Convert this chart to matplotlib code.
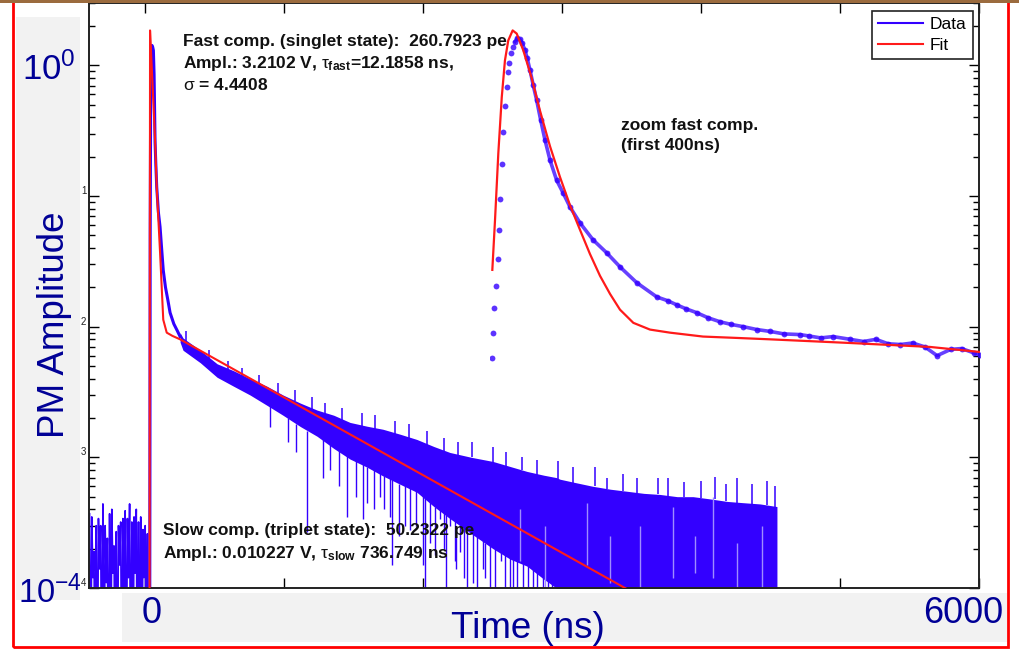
import matplotlib
matplotlib.use('Agg')
import matplotlib.pyplot as plt
from matplotlib.patches import Rectangle
from matplotlib.lines import Line2D
from matplotlib.ticker import LogLocator, NullFormatter, NullLocator, MultipleLocator

plt.rcParams.update({
    'font.family': 'Liberation Sans',
    'mathtext.fontset': 'custom',
    'mathtext.rm': 'Liberation Sans',
    'mathtext.it': 'Liberation Sans',
    'mathtext.bf': 'Liberation Sans:bold',
})

W, H = 1019, 649
BLUE = '#3300ff'
RED = '#ff1a1a'
NAVY = '#000096'

# ── data ────────────────────────────────────────────────────────────────────
# pre-trigger baseline noise, ns / V
pre_t = [-396, -388, -380, -372, -364, -356, -348, -340, -332, -324, -316, -308,
         -300, -292, -284, -276, -268, -260, -252, -244, -236, -228, -220, -212,
         -204, -196, -188, -180, -172, -164, -156, -148, -140, -132, -124, -116,
         -108, -100, -92, -84, -76, -68, -60, -52, -44, -36, -28, -20, -12, -4,
         4, 12, 20, 28]
pre_amp = [3.7e-4, 1e-5, 3.5e-4, 1.2e-4, 1.9e-4, 1e-5, 3.0e-4, 1e-5, 3.4e-4, 1.4e-4,
           3.0e-4, 1e-5, 4.4e-4, 1e-5, 3.0e-4, 1.1e-4, 2.4e-4, 1e-5, 3.7e-4, 1e-5,
           4.0e-4, 1.3e-4, 2.1e-4, 1e-5, 2.7e-4, 1e-5, 3.0e-4, 1.5e-4, 3.2e-4, 1e-5,
           3.4e-4, 1e-5, 3.9e-4, 1e-5, 3.4e-4, 1.2e-4, 4.4e-4, 1e-5, 3.2e-4, 1e-5,
           3.5e-4, 1.3e-4, 4.0e-4, 1e-5, 3.2e-4, 1e-5, 3.5e-4, 1e-5, 2.8e-4, 1.2e-4,
           3.0e-4, 1e-5, 2.6e-4, 1e-5]

# prompt peak of the data
peak_t = [36, 40, 44, 48, 53, 58, 63, 68, 75, 81, 87, 99, 111, 122, 134, 150,
          167, 183, 210, 235, 255]
peak_amp = [1e-5, 0.05, 0.9, 1.35, 1.42, 1.38, 1.30, 0.85, 0.26, 0.17, 0.117,
            0.075, 0.058, 0.040, 0.027, 0.020, 0.016, 0.0128, 0.0105, 0.0093, 0.0084]

# slow tail: band of the noisy trace
env_t = [255, 276, 400, 521, 640, 758, 880, 995, 1120, 1240, 1360, 1477, 1600,
         1714, 1840, 1958, 2080, 2195, 2350, 2505, 2630, 2750, 2870, 2960, 2987,
         3100, 3224, 3350, 3469, 3590, 3706, 3830, 3944, 4070, 4188, 4300, 4425, 4547]
env_hi = [0.0090, 0.0082, 0.0066, 0.0052, 0.0046, 0.0040, 0.0035, 0.0030, 0.0026,
          0.0023, 0.0021, 0.00185, 0.00173, 0.00164, 0.0015, 0.00137, 0.00121,
          0.00109, 0.0010, 0.00093, 0.00085, 0.00078, 0.00073, 0.0007, 0.00068,
          0.00064, 0.0006, 0.00057, 0.00055, 0.00053, 0.00052, 0.0005, 0.0005,
          0.00048, 0.00046, 0.00045, 0.00044, 0.00042]
env_lo = [0.0076, 0.0066, 0.0053, 0.0041, 0.0035, 0.0030, 0.0025, 0.0021, 0.00172,
          0.00145, 0.00117, 0.00097, 0.00084, 0.00072, 0.00062, 0.00054, 0.00042,
          0.00034, 0.00026, 0.0002, 0.000166, 0.000147, 0.000117, 0.0001,
          1e-5, 1e-5, 1e-5, 1e-5, 1e-5, 1e-5, 1e-5, 1e-5, 1e-5, 1e-5, 1e-5, 1e-5,
          1e-5, 1e-5]

# downward noise spikes
down_t = [905, 1030, 1090, 1168, 1280, 1330, 1400, 1455, 1520, 1570, 1600, 1650,
          1690, 1720, 1764, 1778, 1830, 1870, 1910, 1950, 2000, 2015, 2050, 2090,
          2124, 2150, 2170, 2196, 2230, 2240, 2268, 2300, 2320, 2361, 2390, 2433,
          2450, 2480, 2520, 2560, 2590, 2627, 2650, 2680, 2721, 2760, 2793, 2820,
          2865, 2900, 2930, 2965]
down_top = [0.0025, 0.0020, 0.0018, 0.0016, 0.0014, 0.0013, 0.0012, 0.0011, 0.0010,
            0.0009, 0.00085, 0.0009, 0.0008, 0.00072, 0.0008, 0.0008, 0.00063,
            0.0007, 0.0007, 0.00055, 0.0006, 0.0006, 0.0005, 0.00042, 0.0005,
            0.0005, 0.00036, 0.0004, 0.0004, 0.0003, 0.0004, 0.0003, 0.00027,
            0.0003, 0.00025, 0.0003, 0.00022, 0.00025, 0.0002, 0.0002, 0.00018,
            0.0002, 0.00017, 0.0002, 0.0002, 0.00015, 0.00016, 0.00014, 0.00016,
            0.00012, 0.00013, 0.00013]
down_bot = [0.0017, 0.0013, 0.0011, 2.7e-4, 0.0007, 0.0008, 0.0006, 3.5e-4, 0.0005,
            3.4e-4, 4.5e-4, 0.0004, 0.0005, 4.0e-4, 3.5e-4, 1.5e-4, 2.5e-4, 0.0003,
            2.8e-4, 3.0e-4, 1.5e-4, 1e-5, 2.2e-4, 1.8e-4, 3.4e-4, 2e-4, 1e-5,
            3.0e-4, 1.6e-4, 1.4e-4, 1.9e-4, 1.2e-4, 1e-5, 1.1e-4, 1e-5, 1.4e-4,
            1.2e-4, 1e-5, 1e-5, 1.6e-4, 1e-5, 1e-5, 1e-5, 1e-5, 1e-5, 1e-5, 1e-5,
            1e-5, 1e-5, 1e-5, 1e-5, 1e-5]

# upward noise spikes
tip_t = [300, 460, 600, 700, 820, 960, 1080, 1200, 1300, 1420, 1560, 1660, 1800,
         1900, 2030, 2150, 2250, 2355, 2505, 2600, 2714, 2820, 2973, 3080, 3239,
         3325, 3440, 3540, 3692, 3764, 3880, 4000, 4102, 4180, 4260, 4370, 4476, 4530]
tip_top = [0.0093, 0.0066, 0.0055, 0.0048, 0.0043, 0.0037, 0.0033, 0.0029, 0.0026,
           0.0024, 0.0022, 0.0021, 0.0019, 0.0018, 0.0016, 0.0014, 0.0013, 0.0013,
           0.0012, 0.0011, 0.0010, 0.00095, 0.00093, 0.00085, 0.00084, 0.00069,
           0.00075, 0.0007, 0.00069, 0.00069, 0.00065, 0.00066, 0.00071, 0.00063,
           0.0007, 0.00062, 0.00066, 0.0006]
tip_base = [0.0075, 0.0055, 0.0046, 0.0042, 0.0037, 0.0031, 0.0027, 0.0023, 0.0021,
            0.0019, 0.0017, 0.0016, 0.0015, 0.0014, 0.0012, 0.0011, 0.0010, 0.0010,
            0.0009, 0.00085, 0.0008, 0.00073, 0.00068, 0.00064, 0.0006, 0.00057,
            0.00055, 0.00053, 0.00052, 0.00051, 0.0005, 0.00049, 0.00048, 0.00046,
            0.00045, 0.00044, 0.00043, 0.00042]

# pale streaks inside the dense band
pale_t = [2700, 2880, 3183, 3350, 3560, 3800, 3960, 4090, 4260, 4440]
pale_top = [0.0004, 0.0003, 0.00045, 0.00025, 0.0003, 0.00042, 0.00025, 0.0005, 0.00022, 0.0003]
pale_bot = [1.6e-4, 1e-5, 1.5e-4, 1.1e-4, 1e-5, 1.2e-4, 1.3e-4, 1.2e-4, 1e-5, 1e-5]

# fit (main axes)
fit_t = [35, 39, 47, 58, 75, 87, 111, 134, 159, 200, 255, 4200]
fit_amp = [1e-5, 1.85, 1.2, 0.68, 0.27, 0.117, 0.037, 0.0113, 0.0090, 0.0085,
           0.0080, 3.6e-5]

# zoom on the fast component (first 400 ns)
ins_t = [1.9, 2.7, 3.5, 4.7, 6.3, 7.3, 8.4, 9.8, 10.9, 12.0, 13.6, 14.7, 15.8, 17.1,
         18.5, 20.4, 22.3, 24.5, 26.4, 28.6, 30.4, 32.7, 35.3, 38.1, 41.4, 44.9,
         49.0, 54.4, 59.8, 65.3, 73.5, 84.1, 95.3, 106.1, 119.8, 136.1, 145, 152.4,
         160, 168.7, 178, 187.8, 197, 206.8, 218, 228.6, 240, 253, 260, 270, 280,
         294, 305, 315, 325, 335, 345, 355, 365, 376, 385, 395, 400]
ins_amp = [0.0058, 0.0090, 0.0140, 0.0206, 0.0331, 0.0550, 0.0948, 0.175, 0.308,
           0.487, 0.679, 0.885, 1.05, 1.24, 1.37, 1.52, 1.61, 1.58, 1.47, 1.30, 1.13,
           0.916, 0.704, 0.541, 0.380, 0.268, 0.188, 0.132, 0.105, 0.0824, 0.0622,
           0.0462, 0.0367, 0.0287, 0.0217, 0.0169, 0.0158, 0.0147, 0.0137, 0.0128,
           0.0117, 0.0109, 0.0104, 0.0100, 0.0095, 0.0092, 0.0088, 0.0087, 0.0085,
           0.0082, 0.0084, 0.0080, 0.0077, 0.0080, 0.0074, 0.0073, 0.0075, 0.0070,
           0.0060, 0.0067, 0.0068, 0.0063, 0.0061]
ins_fit_t = [1.9, 4.1, 6.8, 9.6, 12.2, 14.9, 18.5, 21.8, 27.2, 34.0, 40.8, 49.0,
             57.1, 65.3, 73.5, 81.6, 89.8, 98.0, 106.1, 117, 130.6, 146.9, 173.9,
             201.6, 228.6, 294, 359, 400]
ins_fit_amp = [0.0272, 0.0656, 0.213, 0.570, 1.09, 1.55, 1.85, 1.75, 1.30, 0.80,
               0.45, 0.24, 0.14, 0.085, 0.055, 0.0360, 0.0245, 0.0178, 0.0135,
               0.0107, 0.0095, 0.0090, 0.0084, 0.0082, 0.0080, 0.0075, 0.0070, 0.0064]

YEXP_VALS = [1e-1, 1e-2, 1e-3, 1e-4]
YEXP_LABELS = ['1', '2', '3', '4']


def fx(px):
    return px / W


def fy(py):
    return 1 - py / H


fig = plt.figure(figsize=(W / 100, H / 100), dpi=100)
fig.patch.set_facecolor('white')

# ── main axes ───────────────────────────────────────────────────────────────
ax = fig.add_axes([fx(89), fy(588), fx(979) - fx(89), fy(3) - fy(588)])
ax.set_yscale('log')
ax.set_xlim(-400, 6000)
ax.set_ylim(1e-4, 3)

ax.plot(pre_t, pre_amp, color=BLUE, lw=1.2, zorder=2)
ax.plot(pre_t[-1:] + peak_t, pre_amp[-1:] + peak_amp, color=BLUE, lw=2.2,
        zorder=2)
ax.fill_between(env_t, env_lo, env_hi, color=BLUE, lw=0, zorder=2)
ax.vlines(down_t, down_bot, down_top, color=BLUE, lw=1.0, zorder=2)
ax.vlines(tip_t, tip_base, tip_top, color=BLUE, lw=1.1, zorder=2)
ax.vlines(pale_t, pale_bot, pale_top, color='#9f8cff', lw=1.0, zorder=2)
ax.plot(fit_t, fit_amp, color=RED, lw=1.5, zorder=3)

ax.xaxis.set_major_locator(MultipleLocator(1000))
ax.xaxis.set_minor_locator(NullLocator())
ax.yaxis.set_major_locator(LogLocator(base=10, numticks=10))
ax.yaxis.set_minor_locator(LogLocator(base=10, subs=range(2, 10), numticks=10))
ax.yaxis.set_minor_formatter(NullFormatter())
ax.tick_params(which='both', direction='in', top=True, right=True,
               labelbottom=False, labelleft=False, width=1.0)
ax.tick_params(which='major', length=7)
ax.tick_params(which='minor', length=4)
for s in ax.spines.values():
    s.set_linewidth(1.4)
    s.set_color('#222222')

for v, s in zip(YEXP_VALS, YEXP_LABELS):
    ax.text(-0.003, v, s, transform=ax.get_yaxis_transform(), ha='right',
            va='bottom', fontsize=7, color='#222222')

bold = dict(transform=ax.transAxes, fontsize=12.5, fontweight='bold',
            va='baseline', ha='left', color='#111111', zorder=5)
ax.text(0.1056, 0.9265, 'Fast comp. (singlet state):  260.7923 pe', **bold)
ax.text(0.1056, 0.889, r'Ampl.: 3.2102 V, $\tau_{\mathbf{fast}}$=12.1858 ns,', **bold)
ax.text(0.1056, 0.851, r'$\sigma$ = 4.4408', **bold)
ax.text(0.0831, 0.0906, 'Slow comp. (triplet state):  50.2322 pe', **bold)
ax.text(0.0831, 0.0513, r'Ampl.: 0.010227 V, $\tau_{\mathbf{slow}}$ 736.749 ns', **bold)
ax.text(0.5978, 0.783, 'zoom fast comp.', **bold)
ax.text(0.5978, 0.749, '(first 400ns)', **bold)

handles = [Line2D([], [], color=BLUE, lw=1.5), Line2D([], [], color=RED, lw=1.5)]
leg = ax.legend(handles, ['Data', 'Fit'], loc='upper right',
                bbox_to_anchor=(0.993, 0.986), borderaxespad=0, fontsize=12.5,
                fancybox=False, framealpha=1, edgecolor='#222222',
                handlelength=2.6, handletextpad=0.4, labelspacing=0.3,
                borderpad=0.35)
leg.get_frame().set_linewidth(1.2)

# ── zoom of the fast component (drawn over the main axes) ───────────────────
ins = fig.add_axes([fx(490), fy(588), fx(980) - fx(490), fy(3) - fy(588)])
ins.set_yscale('log')
ins.set_xlim(0, 400)
ins.set_ylim(1e-4, 3)
ins.axis('off')
ins.patch.set_alpha(0)
ins.plot(ins_t[15:], ins_amp[15:], color=BLUE, lw=2.6, alpha=0.75)
ins.plot(ins_t, ins_amp, ls='none', marker='o', ms=4.2, mfc=BLUE, mec='none',
         alpha=0.8)
ins.plot(ins_fit_t, ins_fit_amp, color=RED, lw=1.6)

# ── slide decorations ───────────────────────────────────────────────────────
def box(x0, y0, x1, y1, **kw):
    fig.add_artist(Rectangle((fx(x0), fy(y1)), fx(x1) - fx(x0), fy(y0) - fy(y1),
                             transform=fig.transFigure, **kw))

box(16, 17, 80, 600, fc='#f2f2f2', ec='none', zorder=0.5)
box(122, 593, 1007, 642, fc='#f2f2f2', ec='none', zorder=0.5)
box(13, -6, 1008, 647, fill=False, ec='#ff0000', lw=2, zorder=6)
box(0, 0, W, 3, fc='#9b6b3e', ec='none', zorder=7)

big = dict(color=NAVY, va='baseline', zorder=6)
fig.text(fx(22), fy(80), r'$10^0$', fontsize=25, ha='left', **big)
fig.text(fx(18), fy(603), r'$10^{-4}$', fontsize=23.5, ha='left', **big)
fig.text(fx(152), fy(623), '0', fontsize=26, ha='center', **big)
fig.text(fx(1003), fy(623), '6000', fontsize=26, ha='right', **big)
fig.text(fx(528), fy(638), 'Time (ns)', fontsize=26.5, ha='center', **big)
fig.text(fx(54), fy(325), 'PM Amplitude', fontsize=26.5, rotation=90,
         ha='center', va='center', color=NAVY, zorder=6)

fig.savefig('out.png', dpi=100, facecolor='white')
